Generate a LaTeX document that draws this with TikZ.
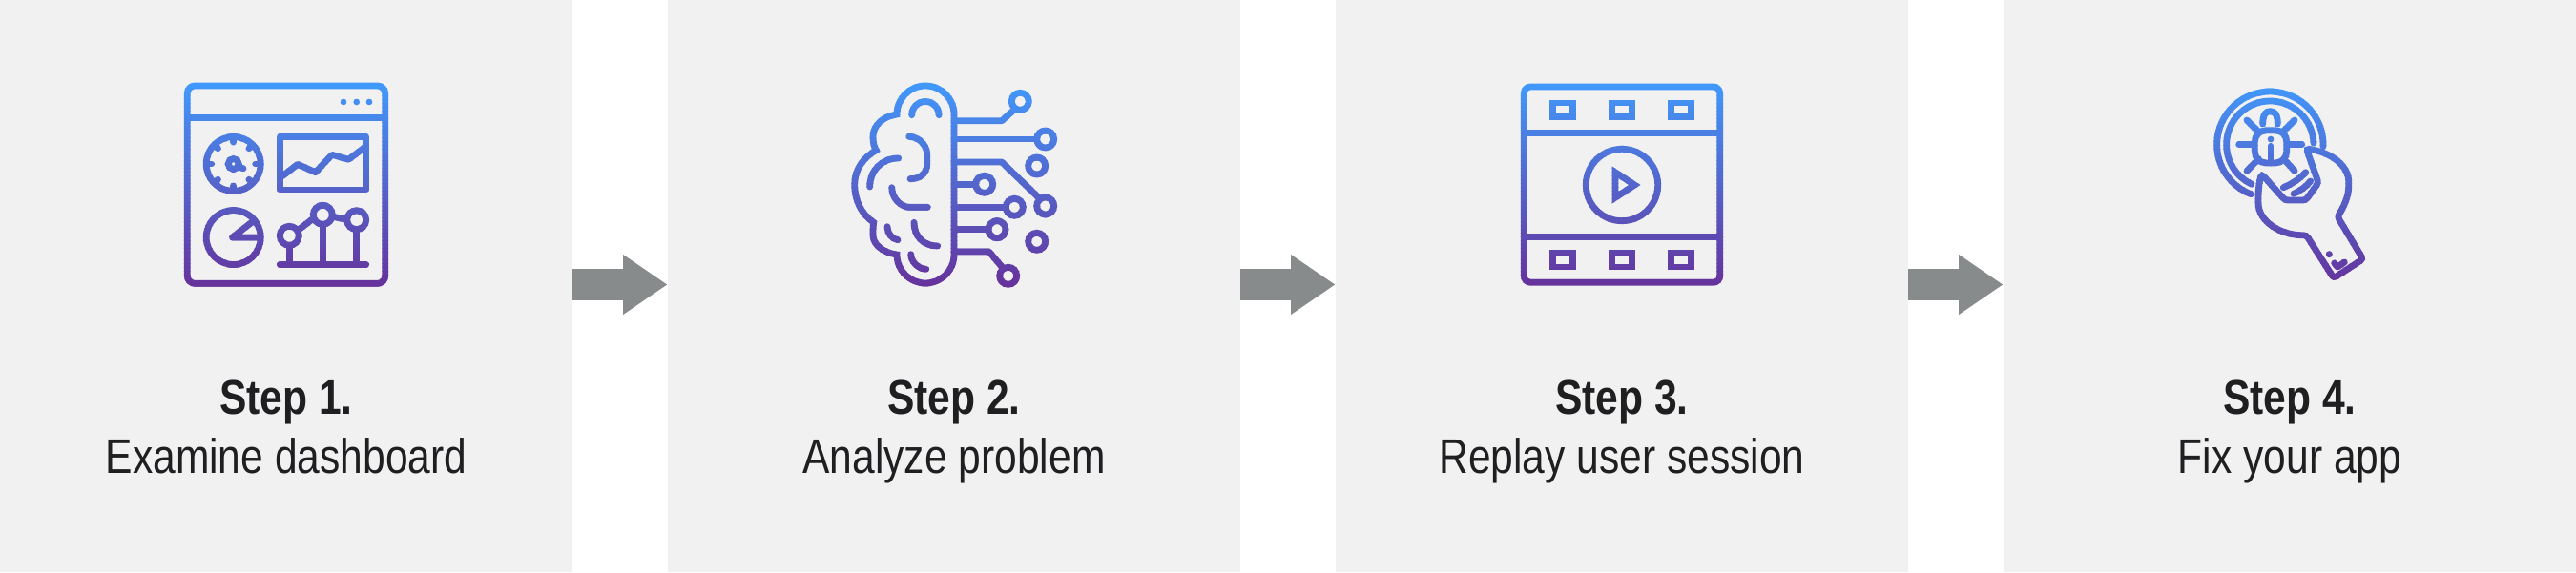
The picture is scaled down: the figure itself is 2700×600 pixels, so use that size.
\documentclass[tikz,border=0pt]{standalone}
\usepackage{fontspec}
\usepackage{xcolor}
\usetikzlibrary{arrows.meta}
\setmainfont[FakeStretch=0.835]{Liberation Sans}
\definecolor{c1}{HTML}{4199FC}
\definecolor{c2}{HTML}{67309A}
\definecolor{c3}{HTML}{F1F1F1}
\definecolor{c4}{HTML}{878B8C}
\definecolor{c5}{HTML}{1F1F22}

% one icon cut into horizontal bands, each in its own colour
\newcommand{\gradicon}[1]{%
  \foreach \band in {0,...,54}{
    \pgfmathsetmacro\bandtop{84+4*\band}
    \pgfmathsetmacro\bandbot{\bandtop+4.4}
    \pgfmathtruncatemacro\mixpct{100*\band/54}
    \colorlet{cb}{c2!\mixpct!c1}
    \begin{scope}
      \clip (0,\bandtop) rectangle (2700,\bandbot);
      #1
    \end{scope}
  }}

\newcommand{\dashicon}{%
  \draw[ico, rounded corners=0.8mm] (196.3,90) rectangle (403.7,297.3);
  \draw[ico] (196.3,123.7) -- (403.7,123.7);
  \foreach \x in {360,373.7,387} \fill[dot] (\x,107) circle[radius=3.3];
  % gauge
  \draw[ico] (244.7,172) circle[radius=28.5];
  \foreach \a in {0,45,...,315} \draw[ico] (244.7,172) ++(\a:27) -- ++(\a+180:4);
  \draw[ico] (244.7,172) circle[radius=5.5];
  \draw[ico] (249,175) -- (255,176.7);
  % line chart
  \draw[ico, line join=round] (293.3,143.7) rectangle (383.7,199);
  \draw[ico, line join=round] (296,184.7) -- (312,172.3) -- (330.7,180.7) -- (348,162.3) -- (365.3,167.3) -- (381.7,155);
  % pie
  \draw[ico] (244.7,249) circle[radius=28.5];
  \draw[ico, line join=round] (265,232.3) -- (243.5,249) -- (270,249);
  % lollipops
  \draw[ico] (303.3,247.3) circle[radius=10];
  \draw[ico] (338.3,225.3) circle[radius=10];
  \draw[ico] (373.7,230.7) circle[radius=10];
  \draw[ico] (314.3,240) -- (327.3,230);
  \draw[ico] (349,227.5) -- (363,230);
  \draw[ico] (303.3,257.3) -- (303.3,277.3);
  \draw[ico] (338.3,235.3) -- (338.3,277.3);
  \draw[ico] (373.7,240.7) -- (373.7,277.3);
  \draw[ico] (293.3,277.3) -- (383.7,277.3);
}

\newcommand{\brainicon}{%
  \draw[ico] (1000,120) arc[start angle=0, end angle=-180, radius=30]
    .. controls (925,122) and (915,132) .. (915,143.3)
    .. controls (915,149) and (916,154) .. (918.3,157.7)
    .. controls (905,165) and (895.7,178) .. (895.7,193.3)
    .. controls (895.7,210) and (903,225) .. (915.7,233.3)
    .. controls (915,238) and (915,242) .. (915,246.7)
    .. controls (915,256) and (925,265) .. (940,267)
    arc[start angle=180, end angle=0, radius=30] -- cycle;
  \draw[ico] (955.7,120.7) arc[start angle=180, end angle=360, radius=14.2];
  \draw[ico] (952.7,143.3) .. controls (966,144) and (971.7,155) .. (971.7,162) -- (971.7,172)
    .. controls (971.7,182) and (964,187.7) .. (954,187.7);
  \draw[ico] (941.7,166) .. controls (925,166) and (911.7,178) .. (911.7,196);
  \draw[ico] (934.7,196.7) .. controls (935,209) and (945,217.3) .. (953.3,217.3) -- (972.3,217.3);
  \draw[ico] (930,237.7) .. controls (930,245) and (935,250.7) .. (941,251.7);
  \draw[ico] (958,233.3) .. controls (958,248) and (968,258) .. (982.7,258);
  \draw[ico] (954.7,266.7) .. controls (954.7,274) and (962,282) .. (970.7,282.3);
  % circuit
  \draw[ico, line join=round] (1000,126.7) -- (1050,126.7) -- (1063,115);
  \draw[ico] (1069.3,106.3) circle[radius=9];
  \draw[ico] (1000,146) -- (1086.7,146);
  \draw[ico] (1095.7,146) circle[radius=9];
  \draw[ico] (1086.7,174) circle[radius=9];
  \draw[ico, line join=round] (1000,170) -- (1050,170) -- (1088,206.7);
  \draw[ico] (1095.7,216) circle[radius=9];
  \draw[ico] (1000,193.3) -- (1022,193.3);
  \draw[ico] (1031.7,193.3) circle[radius=9];
  \draw[ico] (1000,217.3) -- (1053,217.3);
  \draw[ico] (1063.3,217.3) circle[radius=9];
  \draw[ico] (1000,240.7) -- (1035,240.7);
  \draw[ico] (1045,240.7) circle[radius=9];
  \draw[ico] (1086.7,253.3) circle[radius=9];
  \draw[ico, line join=round] (1000,264) -- (1036.7,264) -- (1051,281);
  \draw[ico] (1056.7,289.3) circle[radius=9];
}

\newcommand{\filmicon}{%
  \draw[ico, rounded corners=0.7mm] (1597.3,91) rectangle (1802.7,296.3);
  \draw[ico] (1597.3,139.3) -- (1802.7,139.3);
  \draw[ico] (1597.3,248.7) -- (1802.7,248.7);
  \foreach \x in {1627.7,1689.5,1751.3} {
    \draw[ico, line cap=butt] (\x,108) rectangle ++(21,14.3);
    \draw[ico, line cap=butt] (\x,265.7) rectangle ++(21,14.3);
  }
  \draw[ico] (1700,194) circle[radius=37.7];
  \draw[ico] (1693,180.7) -- (1693,207.3) -- (1713.3,194) -- cycle;
}

\newcommand{\wrenchicon}{%
  \draw[ico] (2379.3,151.7) ++(2:55.7) arc[start angle=2, end angle=-249, radius=55.7];
  \draw[ico] (2379.3,151.7) ++(-2:45.7) arc[start angle=-2, end angle=-245, radius=45.7];
  % bug
  \draw[ico, rounded corners=1.2mm] (2363.3,136.7) rectangle (2396.7,171);
  \draw[ico] (2371.7,130) .. controls (2371.7,120) and (2375,116.7) .. (2379.3,116.7)
    .. controls (2384,116.7) and (2387.3,120) .. (2387.3,130);
  \fill[dot] (2380,146) circle[radius=3.3];
  \draw[ico] (2380,153.3) -- (2380,171);
  \draw[ico] (2346.7,151.7) -- (2361,151.7);
  \draw[ico] (2397,151.7) -- (2412.7,151.7);
  \draw[ico] (2355,126) -- (2367.3,138.3);
  \draw[ico] (2405,126) -- (2392.7,138.3);
  \draw[ico] (2355,179.3) -- (2367.3,166.7);
  \draw[ico] (2405,179.3) -- (2395,168.3);
  \draw[ico] (2393.3,196.7) .. controls (2402,193) and (2410,188) .. (2416.7,180.7);
  \draw[ico] (2404,203.3) .. controls (2411,200) and (2417,196) .. (2421.7,190);
  % wrench
  \draw[ico, rounded corners=0.3mm] (2417.3,156) .. controls (2445,160) and (2461.7,175) .. (2461.7,193.3)
    .. controls (2461.7,206) and (2456,218) .. (2450,227.3)
    -- (2476.7,271.7) -- (2446,291.7) -- (2417.3,246.7)
    .. controls (2390,247) and (2367,232) .. (2367,210)
    .. controls (2367,200) and (2368,190) .. (2370.7,182.7)
    -- (2395,210) -- (2416.7,210) -- (2430,191.7) -- cycle;
  \fill[dot] (2441.3,266.7) circle[radius=3.5];
  \draw[ico, line join=round] (2446.7,276) -- (2450,280) -- (2457.3,275);
}

\begin{document}
\begin{tikzpicture}[
  x=0.01cm, y=-0.01cm,
  panel/.style={fill=c3, minimum width=6cm, minimum height=6cm, inner sep=0pt},
  label/.style={anchor=north, align=center, text=c5, inner sep=0pt, font=\fontsize{14.5}{17.64}\selectfont},
  arr/.style={-{Triangle[length=4.6mm, width=6.3mm, line width=0pt]}, draw=c4, fill=c4, line width=3.2mm},
  ico/.style={draw=cb, line width=0.68mm, line cap=round},
  dot/.style={fill=cb}
]
  \useasboundingbox (0,0) rectangle (2700,600);
  % Panels
  \node[panel] (panel1) at (300,300) {};
  \node[panel] (panel2) at (1000,300) {};
  \node[panel] (panel3) at (1700,300) {};
  \node[panel] (panel4) at (2400,300) {};
  % Arrows
  \draw[arr] ([xshift=-0.01cm, yshift=0.015cm]panel1.east) -- ([yshift=0.015cm]panel2.west);
  \draw[arr] ([xshift=-0.01cm, yshift=0.015cm]panel2.east) -- ([yshift=0.015cm]panel3.west);
  \draw[arr] ([xshift=-0.01cm, yshift=0.015cm]panel3.east) -- ([yshift=0.015cm]panel4.west);
  % Icons
  \gradicon{\dashicon}
  \gradicon{\brainicon}
  \gradicon{\filmicon}
  \gradicon{\wrenchicon}
  % Labels
  \node[label] (label1) at (300,398) {\textbf{Step 1.}\\Examine dashboard};
  \node[label] (label2) at (1000,398) {\textbf{Step 2.}\\Analyze problem};
  \node[label] (label3) at (1700,398) {\textbf{Step 3.}\\Replay user session};
  \node[label] (label4) at (2400,398) {\textbf{Step 4.}\\Fix your app};
\end{tikzpicture}
\end{document}
